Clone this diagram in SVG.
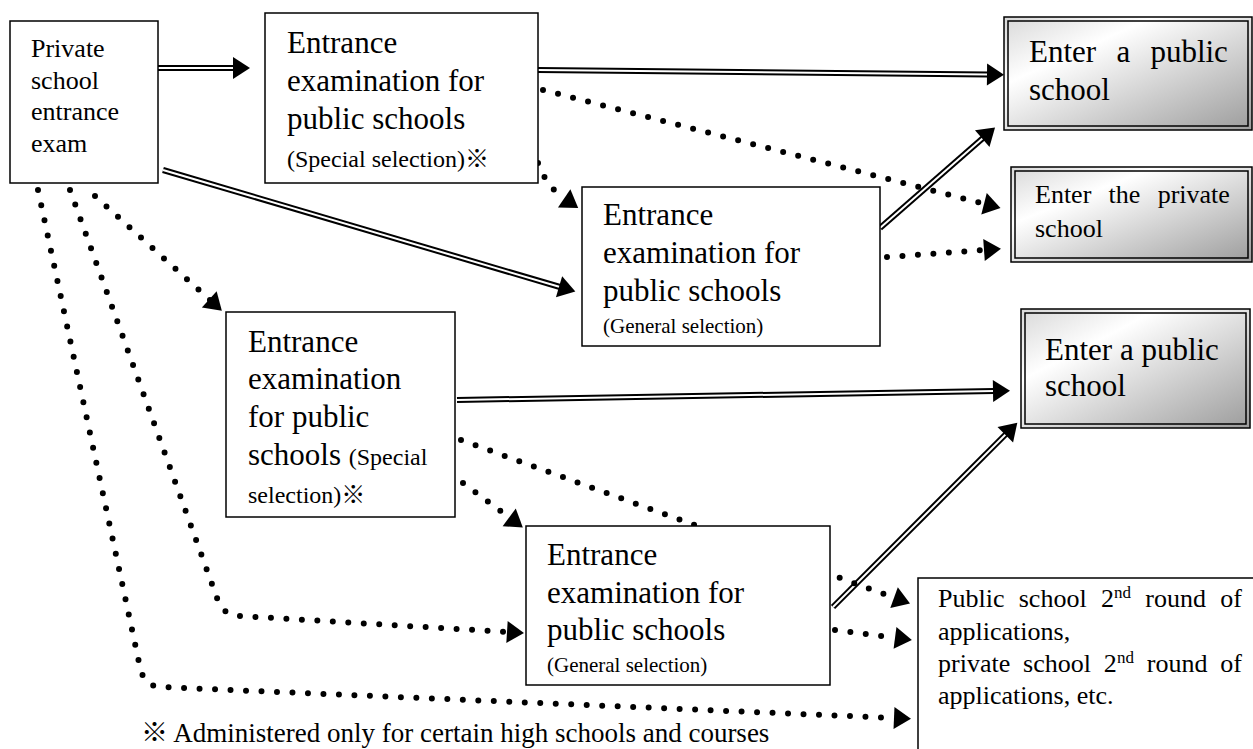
<svg xmlns="http://www.w3.org/2000/svg" width="1253" height="749" viewBox="0 0 1253 749">
<style>
text{font-family:"Liberation Serif","Times New Roman",serif;fill:#000}
.f31{font-size:31px}.f27{font-size:27px}.f26{font-size:26px}.f24{font-size:24px}.f21{font-size:21px}
.cjk{font-family:"Noto Sans CJK JP","Noto Sans CJK SC",sans-serif}
.box{fill:#fff;stroke:#000;stroke-width:1.5}
.gbox{fill:url(#grad);stroke:#000;stroke-width:1.5}
.inner{fill:none;stroke:#000;stroke-width:1.5}
.dblb{fill:none;stroke:#000;stroke-width:6}
.dblw{fill:none;stroke:#fff;stroke-width:2;marker-end:url(#ah)}
.dot{fill:none;stroke:#000;stroke-width:6;stroke-linecap:round;stroke-dasharray:0 15.5;marker-end:url(#ah)}
</style>
<defs>
<linearGradient id="grad" x1="0" y1="0" x2="1" y2="1">
<stop offset="0" stop-color="#d8d8d8"/>
<stop offset="0.3" stop-color="#ffffff"/>
<stop offset="1" stop-color="#9c9c9c"/>
</linearGradient>
<marker id="ah" markerUnits="userSpaceOnUse" markerWidth="17" markerHeight="22" viewBox="0 0 17 22" refX="1" refY="11" orient="auto" overflow="visible">
<path d="M0,0 L17,11 L0,22 Z" fill="#000"/>
</marker>
</defs>
<rect width="1253" height="749" fill="#fff"/>
<g id="connectors">
<path class="dblb" d="M158,68 L234,68"/><path class="dblw" d="M158,68 L234,68"/>
<path class="dblb" d="M538,70 L988,74.5"/><path class="dblw" d="M538,70 L988,74.5"/>
<path class="dblb" d="M163,170 L560,287"/><path class="dblw" d="M163,170 L560,287"/>
<path class="dblb" d="M880,228 L983,138"/><path class="dblw" d="M880,228 L983,138"/>
<path class="dblb" d="M457,400 L994,391"/><path class="dblw" d="M457,400 L994,391"/>
<path class="dblb" d="M833,607 L1006,434"/><path class="dblw" d="M833,607 L1006,434"/>
<path class="dot" d="M543,90 L985,204"/>
<path class="dot" d="M538,163 Q546,186 565,199"/>
<path class="dot" d="M887,257 L985,250"/>
<path class="dot" d="M95,196 L210,300"/>
<path class="dot" d="M461,440 L895,598"/>
<path class="dot" d="M463,483 L510,518"/>
<path class="dot" d="M835,630 L896,638"/>
<path class="dot" d="M70,190 L217,598 Q222,615 240,616 L508,632"/>
<path class="dot" d="M38,190 L140,667 Q144,686 160,687 L895,718"/>
</g>
<g id="n-private-exam">
<rect class="box" x="10" y="21" width="148" height="162"/>
<text class="f26" x="31" y="57">Private</text>
<text class="f26" x="31" y="89">school</text>
<text class="f26" x="31" y="120">entrance</text>
<text class="f26" x="31" y="152">exam</text>
</g>
<g id="n-special-1">
<rect class="box" x="265" y="13" width="273" height="170"/>
<text class="f31" x="287" y="53">Entrance</text>
<text class="f31" x="287" y="91">examination for</text>
<text class="f31" x="287" y="129">public schools</text>
<text class="f24" x="287" y="167">(Special selection)<tspan class="cjk">※</tspan></text>
</g>
<g id="n-general-1">
<rect class="box" x="582" y="187" width="298" height="159"/>
<text class="f31" x="603" y="225">Entrance</text>
<text class="f31" x="603" y="263">examination for</text>
<text class="f31" x="603" y="301">public schools</text>
<text class="f21" x="603" y="333">(General selection)</text>
</g>
<g id="n-special-2">
<rect class="box" x="226" y="312" width="229" height="205"/>
<text class="f31" x="248" y="352">Entrance</text>
<text class="f31" x="248" y="389">examination</text>
<text class="f31" x="248" y="427">for public</text>
<text x="248" y="465"><tspan class="f31">schools </tspan><tspan class="f24">(Special</tspan></text>
<text class="f24" x="248" y="503">selection)<tspan class="cjk">※</tspan></text>
</g>
<g id="n-general-2">
<rect class="box" x="526" y="526" width="304" height="159"/>
<text class="f31" x="547" y="565">Entrance</text>
<text class="f31" x="547" y="603">examination for</text>
<text class="f31" x="547" y="640">public schools</text>
<text class="f21" x="547" y="672">(General selection)</text>
</g>
<g id="n-enter-public-1">
<rect class="gbox" x="1004" y="17" width="248" height="113"/>
<rect class="inner" x="1008" y="21" width="240" height="105"/>
<text class="f31" x="1029" y="62" word-spacing="12.5">Enter a public</text>
<text class="f31" x="1029" y="100">school</text>
</g>
<g id="n-enter-private">
<rect class="gbox" x="1011" y="167" width="241" height="95"/>
<rect class="inner" x="1015" y="171" width="233" height="87"/>
<text class="f26" x="1035" y="203" word-spacing="10.8">Enter the private</text>
<text class="f26" x="1035" y="237">school</text>
</g>
<g id="n-enter-public-2">
<rect class="gbox" x="1021" y="309" width="229" height="119"/>
<rect class="inner" x="1025" y="313" width="221" height="111"/>
<text class="f31" x="1045" y="360">Enter a public</text>
<text class="f31" x="1045" y="396">school</text>
</g>
<g id="n-second-round">
<rect class="box" x="918" y="578" width="400" height="220"/>
<text class="f26" x="938" y="607" word-spacing="7.8">Public school 2<tspan font-size="17" dy="-9">nd</tspan><tspan dy="9"> round of</tspan></text>
<text class="f26" x="938" y="640">applications,</text>
<text class="f26" x="938" y="672" word-spacing="6.4">private school 2<tspan font-size="17" dy="-9">nd</tspan><tspan dy="9"> round of</tspan></text>
<text class="f26" x="938" y="704">applications, etc.</text>
</g>
<g id="note">
<text class="f27" x="141" y="742"><tspan class="cjk">※</tspan> Administered only for certain high schools and courses</text>
</g>
</svg>
